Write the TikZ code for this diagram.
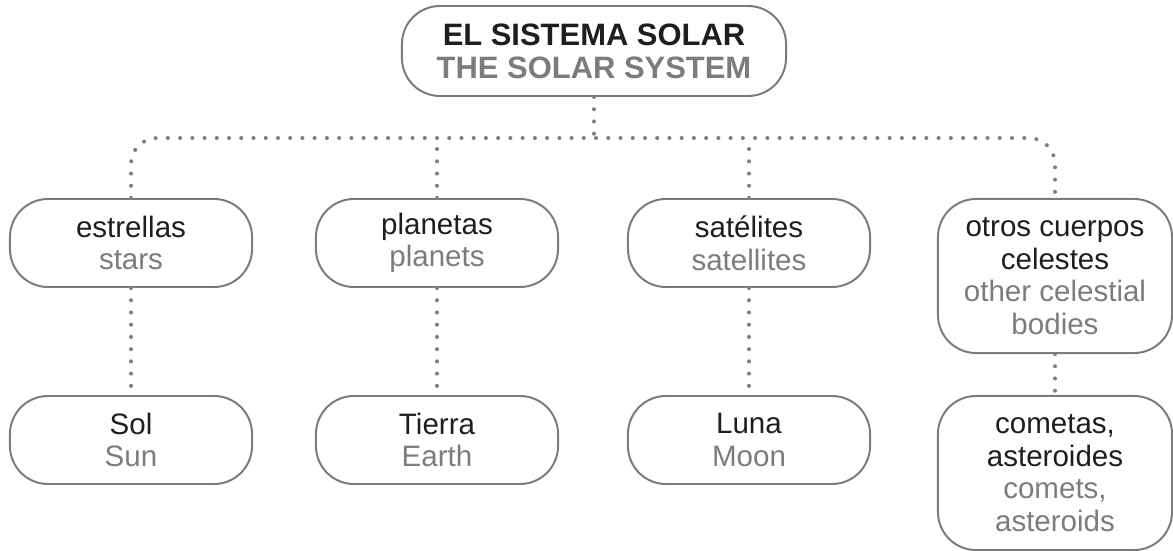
\documentclass[tikz,border=0pt]{standalone}
\usepackage{fontspec}
\setmainfont{Liberation Sans}
\definecolor{boxgray}{HTML}{7A7A7A}
\definecolor{dotgray}{HTML}{808080}
\definecolor{ink}{HTML}{1E1E1E}
\definecolor{engray}{HTML}{7C7C7C}
\newcommand\encolor{\color{engray}}

\begin{document}
\begin{tikzpicture}[x=0.025cm, y=-0.025cm,
  item/.style={draw=boxgray, line width=1.4pt, rounded corners=0.95cm,
    minimum width=6.05cm, minimum height=2.2cm, align=center, text=ink,
    inner sep=0pt, font=\fontsize{21}{23.2}\selectfont},
  tallitem/.style={item, minimum width=5.85cm, minimum height=3.85cm},
  root/.style={item, minimum width=9.6cm, minimum height=2.25cm,
    font=\fontsize{22}{23.5}\selectfont\bfseries},
  link/.style={draw=dotgray, line width=2.9pt, line cap=round,
    dash pattern=on 0pt off 8.7pt}]

\useasboundingbox (0,0) rectangle (1173,551);

\node[root] (sys) at (594,51) {EL SISTEMA SOLAR\\\encolor THE SOLAR SYSTEM};

\node[item] (estrellas) at (131,243) {estrellas\\\encolor stars};
\node[item] (planetas) at (437,243) {planetas\\\encolor planets};
\node[item] (satelites) at (749,243) {satélites\\\encolor satellites};
\node[tallitem] (otros) at (1055,276) {otros cuerpos\\celestes\\\encolor other celestial\\\encolor bodies};

\node[item] (sol) at (131,440) {Sol\\\encolor Sun};
\node[item] (tierra) at (437,440) {Tierra\\\encolor Earth};
\node[item] (luna) at (749,440) {Luna\\\encolor Moon};
\node[tallitem] (cometas) at (1055,473) {cometas,\\asteroides\\\encolor comets,\\\encolor asteroids};

\coordinate (bus) at (594,138);

\draw[link] (sys.south) -- (bus);
\draw[link, rounded corners=0.65cm] (estrellas.north) |- (bus) -| (otros.north);
\draw[link] (planetas.north) -- (planetas.north |- bus);
\draw[link] (satelites.north) -- (satelites.north |- bus);

\draw[link] (estrellas) -- (sol);
\draw[link] (planetas) -- (tierra);
\draw[link] (satelites) -- (luna);
\draw[link] (otros) -- (cometas);
\end{tikzpicture}
\end{document}
